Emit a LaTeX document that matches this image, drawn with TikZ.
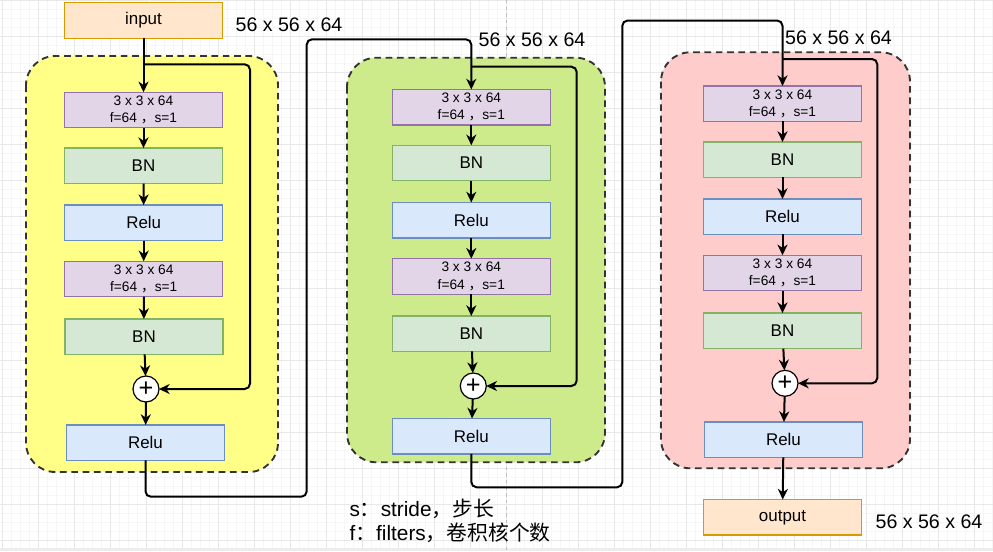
\documentclass[tikz,border=0pt]{standalone}
\usepackage{fontspec}
\setmainfont{Liberation Sans}
\newfontfamily\cjk{Noto Sans CJK SC}
\usetikzlibrary{arrows.meta}
\definecolor{iofill}{HTML}{FFE6CC}
\definecolor{ioline}{HTML}{D79B00}
\definecolor{convfill}{HTML}{E1D5E7}
\definecolor{convline}{HTML}{9673A6}
\definecolor{bnfill}{HTML}{D5E8D4}
\definecolor{bnline}{HTML}{82B366}
\definecolor{relufill}{HTML}{DAE8FC}
\definecolor{reluline}{HTML}{6C8EBF}
\definecolor{grpyellow}{HTML}{FFFF88}
\definecolor{grpgreen}{HTML}{CDEB8B}
\definecolor{grpred}{HTML}{FFCCCC}
\definecolor{grpline}{HTML}{333333}
\definecolor{gridminor}{HTML}{F6F6F6}
\definecolor{gridmajor}{HTML}{E8E8E8}
\begin{document}
\begin{tikzpicture}[x=0.75pt,y=-0.75pt,
  box/.style={draw, line width=0.9pt, minimum width=118.5pt, minimum height=26.6pt,
    inner sep=0pt, outer sep=0pt, align=center, font=\fontsize{12.7}{14}\selectfont},
  conv/.style={box, fill=convfill, draw=convline, font=\fontsize{10.3}{13}\selectfont},
  bn/.style={box, fill=bnfill, draw=bnline},
  relu/.style={box, fill=relufill, draw=reluline},
  io/.style={box, fill=iofill, draw=ioline},
  addop/.style={circle, draw, fill=white, line width=0.9pt, minimum size=19.5pt,
    inner sep=0pt, outer sep=0pt, font=\fontsize{19}{19}\selectfont},
  flow/.style={line width=1.5pt, rounded corners=4pt, -{Stealth[length=8pt,width=7.5pt,inset=2.5pt]}},
  group/.style={draw=grpline, line width=1.4pt, dash pattern=on 5pt off 3.5pt, rounded corners=22pt},
  dimlabel/.style={font=\fontsize{14.7}{17}\selectfont},
  legend/.style={anchor=west, inner sep=0pt, font=\fontsize{15.6}{18}\selectfont},
  pageline/.style={draw=black!25, line width=0.6pt, dash pattern=on 2.5pt off 2.5pt}]
\useasboundingbox (0,0) rectangle (993,551);
\fill[white] (0,0) rectangle (993,551);
% canvas grid
\foreach \i in {0,...,110} {\draw[gridminor, line width=0.5pt] ({2.3+9*\i},0) -- ({2.3+9*\i},551);}
\foreach \i in {0,...,61} {\draw[gridminor, line width=0.5pt] (0,{0.7+9*\i}) -- (993,{0.7+9*\i});}
\foreach \i in {0,...,27} {\draw[gridmajor, line width=0.6pt] ({2.3+36*\i},0) -- ({2.3+36*\i},551);}
\foreach \i in {0,...,15} {\draw[gridmajor, line width=0.6pt] (0,{0.7+36*\i}) -- (993,{0.7+36*\i});}
\fill[black!7] (0,548) rectangle (993,551);
\draw[pageline] (506,0) -- (506,551);

% groups
\draw[group, fill=grpyellow] (26,56) rectangle (278,472);
\draw[group, fill=grpgreen] (347,57.7) rectangle (605,462.3);
\draw[group, fill=grpred] (661,52.3) rectangle (910,468.3);

% left block
\node[io] (in) at (143.5,20.5) {input};
\node[conv] (a1) at (143.5,110) {3 x 3 x 64\\f=64 {\cjk ，}s=1};
\node[bn] (a2) at (143.5,165.8) {BN};
\node[relu] (a3) at (143.7,222.8) {Relu};
\node[conv] (a4) at (143.7,279) {3 x 3 x 64\\f=64 {\cjk ，}s=1};
\node[bn] (a5) at (144,336.7) {BN};
\node[addop] (ap) at (146,389) {+};
\node[relu] (a6) at (145.5,442.7) {Relu};

% middle block
\node[conv] (b1) at (471.3,107.2) {3 x 3 x 64\\f=64 {\cjk ，}s=1};
\node[bn] (b2) at (471.3,163) {BN};
\node[relu] (b3) at (471.3,220.2) {Relu};
\node[conv] (b4) at (471.3,276.4) {3 x 3 x 64\\f=64 {\cjk ，}s=1};
\node[bn] (b5) at (471.3,333.7) {BN};
\node[addop] (bp) at (473.3,386) {+};
\node[relu] (b6) at (471.3,436.2) {Relu};

% right block
\node[conv] (c1) at (782.5,103.7) {3 x 3 x 64\\f=64 {\cjk ，}s=1};
\node[bn] (c2) at (782.5,159.7) {BN};
\node[relu] (c3) at (782.5,216.7) {Relu};
\node[conv] (c4) at (782.5,273) {3 x 3 x 64\\f=64 {\cjk ，}s=1};
\node[bn] (c5) at (782.5,330.8) {BN};
\node[addop] (cp) at (785,383.3) {+};
\node[relu] (c6) at (783.5,439.7) {Relu};
\node[io] (out) at (782.5,517.3) {output};

% labels
\node[dimlabel] (d1) at (289,25) {56 x 56 x 64};
\node[dimlabel] (d2) at (532,40) {56 x 56 x 64};
\node[dimlabel] (d3) at (838.5,37.7) {56 x 56 x 64};
\node[dimlabel] (d4) at (929,521.7) {56 x 56 x 64};
\node[legend] (l1) at (349.3,509.3) {s{\cjk ：}stride{\cjk ，步长}};
\node[legend] (l2) at (349.3,533.3) {f{\cjk ：}filters{\cjk ，卷积核个数}};

% chain arrows
\draw[flow] (in) -- (a1);
\draw[flow] (a1) -- (a2);
\draw[flow] (a2) -- (a3);
\draw[flow] (a3) -- (a4);
\draw[flow] (a4) -- (a5);
\draw[flow] (a5) -- (ap);
\draw[flow] (ap) -- (a6);
\draw[flow] (b1) -- (b2);
\draw[flow] (b2) -- (b3);
\draw[flow] (b3) -- (b4);
\draw[flow] (b4) -- (b5);
\draw[flow] (b5) -- (bp);
\draw[flow] (bp) -- (b6);
\draw[flow] (c1) -- (c2);
\draw[flow] (c2) -- (c3);
\draw[flow] (c3) -- (c4);
\draw[flow] (c4) -- (c5);
\draw[flow] (c5) -- (cp);
\draw[flow] (cp) -- (c6);
\draw[flow] (c6) -- (out);

% skip connections
\coordinate (sa) at (143.5,64.3);
\coordinate (ka) at (250,64.3);
\draw[flow] (sa) -- (ka) |- (ap.east);
\coordinate (sb) at (471.3,66.7);
\coordinate (kb) at (576.7,66.7);
\draw[flow] (sb) -- (kb) |- (bp.east);
\coordinate (sc) at (782.5,59);
\coordinate (kc) at (877.3,59);
\draw[flow] (sc) -- (kc) |- (cp.east);

% links between blocks
\coordinate (j1) at (306.7,496.7);
\coordinate (j2) at (306.7,39.3);
\draw[flow] (a6.south) |- (j1) -- (j2) -| (b1.north);
\coordinate (j3) at (622.3,487.3);
\coordinate (j4) at (622.3,20.5);
\draw[flow] (b6.south) |- (j3) -- (j4) -| (c1.north);
\end{tikzpicture}
\end{document}
